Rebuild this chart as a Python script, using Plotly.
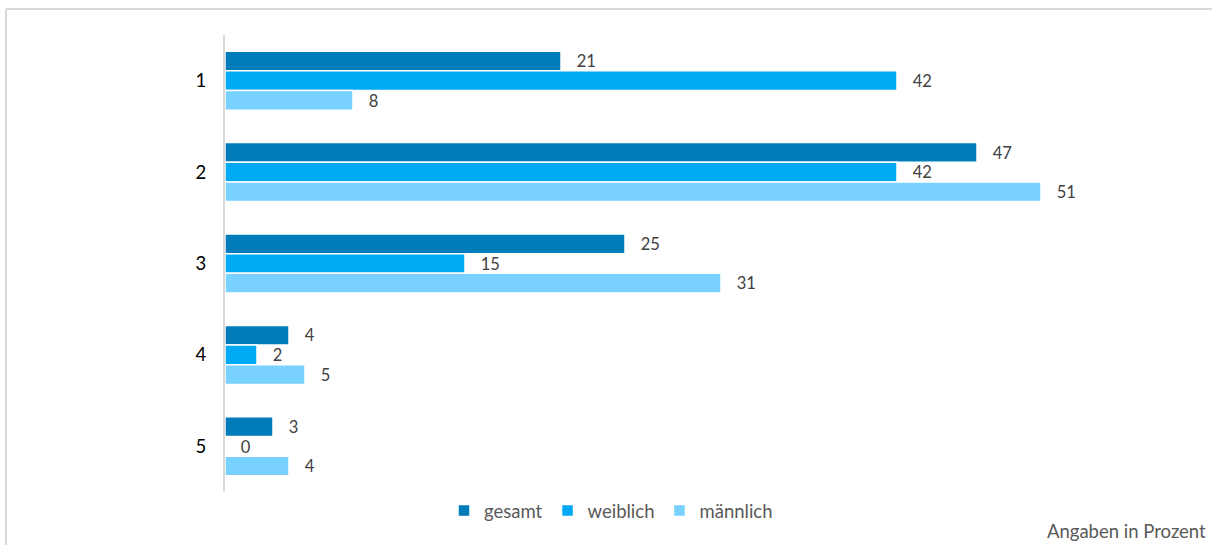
import plotly.graph_objects as go

# Antwortkategorien und Anteile je Gruppe (in Prozent)
categories = ["1", "2", "3", "4", "5"]
gesamt = [21, 47, 25, 4, 3]
weiblich = [42, 42, 15, 2, 0]
maennlich = [8, 51, 31, 5, 4]

series = [
    ("gesamt", gesamt, "#007CBA"),
    ("weiblich", weiblich, "#00A9F4"),
    ("männlich", maennlich, "#78D1FF"),
]

W, H = 1212, 545
L, R, T, B = 225, 27, 35, 53
FONT = "Lato, Open Sans, sans-serif"
FS = 18.5

fig = go.Figure()
for name, vals, color in series:
    fig.add_trace(go.Bar(
        y=categories, x=vals, name=name, orientation="h",
        marker=dict(color=color, line=dict(color="white", width=1.5)),
        text=vals, texttemplate="\u00a0\u00a0\u00a0%{x}", textposition="outside",
        textfont=dict(size=FS, color="#404040", family=FONT),
        cliponaxis=False,
    ))

pw = W - L - R
ph = H - T - B

def px_x(x):
    return (x - L) / pw

def px_y(y):
    return (H - B - y) / ph

fig.update_layout(
    width=W, height=H, autosize=False,
    margin=dict(l=L, r=R, t=T, b=B, autoexpand=False),
    paper_bgcolor="white", plot_bgcolor="white",
    barmode="group", bargap=0.355, bargroupgap=0,
    font=dict(family=FONT, size=FS, color="#595959"),
    xaxis=dict(range=[0, 60], visible=False, showgrid=False, zeroline=False),
    yaxis=dict(autorange="reversed", showgrid=False, zeroline=False,
               showline=True, linecolor="#D9D9D9", linewidth=2,
               ticks="", ticklabelstandoff=13,
               tickfont=dict(size=FS, color="#000000", family=FONT)),
    legend=dict(orientation="h", x=px_x(611), xanchor="center",
                y=px_y(511), yanchor="middle", itemwidth=30,
                font=dict(size=FS, color="#595959", family=FONT),
                traceorder="normal"),
    showlegend=True,
    shapes=[
        dict(type="line", xref="paper", yref="paper",
             x0=px_x(6), x1=px_x(1212), y0=px_y(9), y1=px_y(9),
             line=dict(color="#D9D9D9", width=2)),
        dict(type="line", xref="paper", yref="paper",
             x0=px_x(6), x1=px_x(6), y0=px_y(9), y1=px_y(545),
             line=dict(color="#D9D9D9", width=2)),
    ],
    annotations=[
        dict(text="Angaben in Prozent", xref="paper", yref="paper",
             x=px_x(1208), y=px_y(531), xanchor="right", yanchor="middle",
             showarrow=False, font=dict(size=FS, color="#595959", family=FONT)),
    ],
)

fig.write_html("out.html")
